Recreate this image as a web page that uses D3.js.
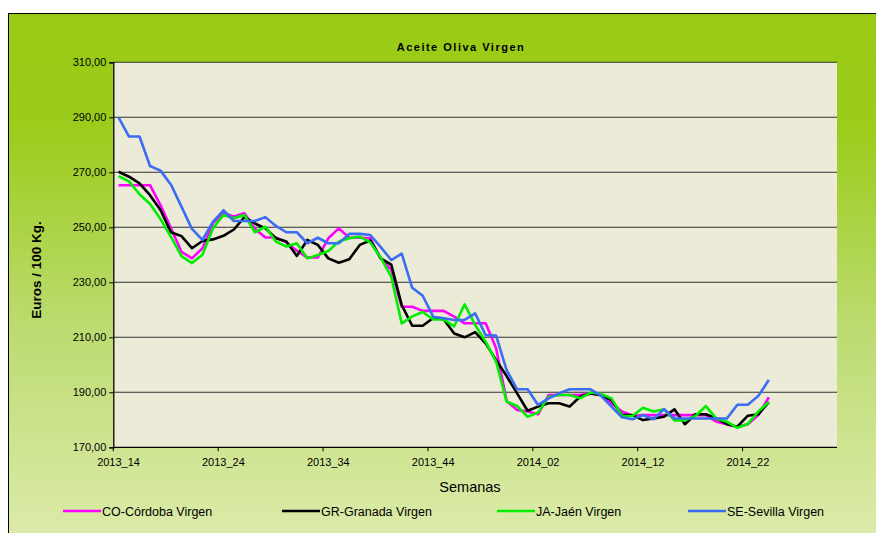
<!DOCTYPE html>
<html>
<head>
<meta charset="utf-8">
<script src="https://cdn.jsdelivr.net/npm/d3@7"></script>
<style>
  body { margin: 0; background: #fff; }
  svg text { font-family: "Liberation Sans", Arial, sans-serif; fill: #000; }
</style>
</head>
<body>
<svg id="chart" width="876" height="533"></svg>
<script>
// categories: weeks 2013_14 .. 2014_30 (data only up to 2014_24)
let weeks = [];
for (let w = 14; w <= 52; w++) weeks.push("2013_" + w);
for (let w = 1; w <= 30; w++) weeks.push("2014_" + (w < 10 ? "0" + w : w));

let tickWeeks = ["2013_14", "2013_24", "2013_34", "2013_44", "2014_02", "2014_12", "2014_22"];
let yTicks = [170, 190, 210, 230, 250, 270, 290, 310];

let cordoba = [265.3, 265.3, 265.3, 265.3, 258.1, 249.6, 241.1, 238.7, 242.4, 251.5,
  255.1, 253.9, 255.1, 249.5, 246.3, 246.3, 244.5, 241.5, 239, 239,
  246, 249.6, 246.2, 246.2, 246, 238.7, 234.5, 221.1, 221.1, 219.6,
  219.6, 219.6, 217.5, 215.1, 215.1, 215.1, 206, 186.8, 183.6, 183,
  182, 189, 189, 189, 189, 189.6, 189, 186, 183, 181.5,
  181.7, 181.7, 181.7, 181.7, 181.7, 181.7, 181.7, 179.3, 178.4, 177.5,
  178.4, 181.7, 188.2];

let granada = [270.2, 268.4, 266, 261.7, 256.3, 248.2, 246.8, 242.4, 245, 245.6,
  246.9, 249.2, 253.7, 251.4, 249.6, 246, 244.8, 239.6, 245.4, 243.6,
  238.7, 237.1, 238.4, 243.6, 245.2, 238.7, 236.4, 221.7, 214.2, 214.2,
  217, 216.6, 211.4, 210, 211.9, 207.8, 201.7, 195.9, 189.6, 183.3,
  184.8, 186, 186, 184.8, 188.4, 189.6, 188.9, 187.2, 181.7, 181.7,
  179.9, 180.5, 181.1, 183.8, 178.4, 182, 182, 180.5, 178.4, 177.5,
  181.5, 182, 186.4];

let jaen = [268.6, 266.7, 262, 258.5, 253, 246.5, 239.5, 237, 240, 249.6,
  254.5, 253.3, 254.5, 248.2, 250.2, 244.8, 243, 244.2, 238.7, 239.9,
  241.4, 244.8, 246, 246.6, 244.5, 239, 232, 215, 217.6, 219.2,
  216.5, 216.5, 214, 222, 214.5, 208.4, 201.1, 186.6, 185, 181.1,
  182.6, 188.4, 189, 189, 187.8, 189.9, 189.4, 187.8, 181.5, 181.4,
  184.4, 183, 183.8, 179.8, 179.8, 181.4, 185, 180.4, 179.3, 177.1,
  178.5, 183, 186.5];

let sevilla = [290, 283, 283, 272.3, 270.6, 265.5, 257.5, 249.4, 245.4, 252,
  256.2, 252.3, 252.3, 252.3, 253.7, 250.5, 248.2, 248.2, 244.2, 246.2,
  244.2, 244.2, 247.6, 247.6, 247.2, 242.8, 238.1, 240.4, 228, 225.1,
  217.5, 216.9, 216.3, 216.3, 218.7, 210.8, 210.6, 198.1, 191.1, 191.1,
  185.4, 187.8, 189.6, 191.1, 191.1, 191.1, 188.7, 184.8, 180.9, 180.2,
  181.7, 180.2, 183.9, 180.5, 180.5, 180.5, 180.5, 180.5, 180.5, 185.5,
  185.5, 188.7, 194.5];

let seriesNames = ["CO-Córdoba Virgen", "GR-Granada Virgen", "JA-Jaén Virgen", "SE-Sevilla Virgen"];
let seriesColors = ["#ff00ff", "#000000", "#00ee00", "#3a6cf4"];
let seriesData = [cordoba, granada, jaen, sevilla];

let svg = d3.select("#chart");

// background gradient
let defs = svg.append("defs");
let grad = defs.append("linearGradient").attr("id", "bg")
  .attr("x1", 0).attr("y1", 0).attr("x2", 0).attr("y2", 1);
grad.append("stop").attr("offset", "0%").attr("stop-color", "#9acb14");
grad.append("stop").attr("offset", "22%").attr("stop-color", "#9ccc1c");
grad.append("stop").attr("offset", "60%").attr("stop-color", "#bcdb70");
grad.append("stop").attr("offset", "100%").attr("stop-color", "#dcebaa");

svg.append("rect")
  .attr("x", 8.5).attr("y", 13.5)
  .attr("width", 870).attr("height", 522)
  .attr("fill", "url(#bg)")
  .attr("stroke", "#000").attr("stroke-width", 1);

let plotLeft = 113.3, plotRight = 837, plotTop = 62.3, plotBottom = 447.3;

let x = d3.scaleBand().domain(weeks).range([plotLeft, plotRight]).padding(0);
let y = d3.scaleLinear().domain([170, 310]).range([plotBottom, plotTop]);

// plot area
svg.append("rect")
  .attr("x", plotLeft).attr("y", plotTop)
  .attr("width", plotRight - plotLeft).attr("height", plotBottom - plotTop)
  .attr("fill", "#ebebd8");

// gridlines
svg.append("g")
  .selectAll("line")
  .data(yTicks.filter(d => d > 170))
  .enter().append("line")
    .attr("x1", plotLeft).attr("x2", plotRight)
    .attr("y1", d => y(d)).attr("y2", d => y(d))
    .attr("stroke", "#333").attr("stroke-width", 1.1);

// y axis
let fmt = d => d3.format(".2f")(d).replace(".", ",");
let yAxis = svg.append("g")
  .attr("transform", "translate(" + plotLeft + ",0)")
  .call(d3.axisLeft(y).tickValues(yTicks).tickFormat(fmt).tickSizeOuter(0).tickSize(4).tickPadding(3));
yAxis.select(".domain").attr("stroke", "#000").attr("stroke-width", 1.3);
yAxis.selectAll("line").attr("stroke", "#000");
yAxis.selectAll("text").style("font-size", "11px").attr("fill", "#000");

// x axis: ticks on category boundaries, labels at category centres
let xg = svg.append("g");
xg.append("line")
  .attr("x1", plotLeft).attr("x2", plotRight)
  .attr("y1", plotBottom).attr("y2", plotBottom)
  .attr("stroke", "#000").attr("stroke-width", 1.3);
xg.selectAll("line.tick")
  .data(tickWeeks)
  .enter().append("line")
    .attr("class", "tick")
    .attr("x1", d => x(d)).attr("x2", d => x(d))
    .attr("y1", plotBottom).attr("y2", plotBottom + 4)
    .attr("stroke", "#000");
xg.selectAll("text")
  .data(tickWeeks)
  .enter().append("text")
    .attr("x", d => x(d) + x.bandwidth() / 2)
    .attr("y", plotBottom + 19)
    .attr("text-anchor", "middle")
    .style("font-size", "11px")
    .text(d => d);

// lines
let line = d3.line()
  .x((d, i) => x(weeks[i]) + x.bandwidth() / 2)
  .y(d => y(d));

svg.append("g")
  .selectAll("path")
  .data(seriesData)
  .enter().append("path")
    .attr("d", d => line(d))
    .attr("fill", "none")
    .attr("stroke", (d, i) => seriesColors[i])
    .attr("stroke-width", 2.6)
    .attr("stroke-linejoin", "round");

// titles
svg.append("text")
  .attr("x", 461).attr("y", 51)
  .attr("text-anchor", "middle")
  .style("font-size", "11px").style("font-weight", "bold")
  .style("letter-spacing", "1.5px")
  .text("Aceite Oliva Virgen");

svg.append("text")
  .attr("transform", "translate(41,270) rotate(-90)")
  .attr("text-anchor", "middle")
  .style("font-size", "13.5px").style("font-weight", "bold")
  .text("Euros / 100 Kg.");

svg.append("text")
  .attr("x", 470).attr("y", 492)
  .attr("text-anchor", "middle")
  .style("font-size", "14.5px")
  .text("Semanas");

// legend
let legendX = [63, 282, 497, 688];
let legend = svg.append("g")
  .selectAll("g")
  .data(seriesNames)
  .enter().append("g")
    .attr("transform", (d, i) => "translate(" + legendX[i] + ",511)");
legend.append("line")
  .attr("x1", 0).attr("x2", 38)
  .attr("stroke", (d, i) => seriesColors[i])
  .attr("stroke-width", 2.6);
legend.append("text")
  .attr("x", 39).attr("y", 4.5)
  .style("font-size", "12.5px")
  .text(d => d);
</script>
</body>
</html>
